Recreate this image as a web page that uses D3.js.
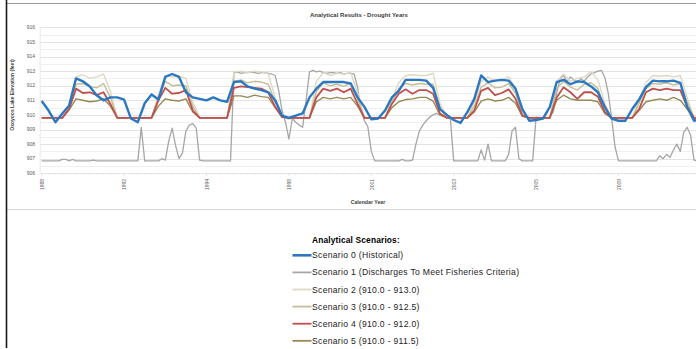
<!DOCTYPE html>
<html>
<head>
<meta charset="utf-8">
<title>Analytical Results - Drought Years</title>
<script src="https://d3js.org/d3.v7.min.js"></script>
<style>
  html, body { margin: 0; padding: 0; background: #fff; }
  svg { display: block; font-family: "Liberation Sans", Arial, sans-serif; }
</style>
</head>
<body>
<div id="chart"></div>
<script>
// drought years shown on the x axis (one year per band)
const years = ["1988", "1992", "1994", "1998", "2001", "2003", "2005", "2009"];
const yTicks = [906, 907, 908, 909, 910, 911, 912, 913, 914, 915, 916];

// monthly lake elevations (ft), 97 points across the 8 drought years
const scen0 = [910.95,910.3,909.5,910.1,910.65,912.5,912.3,911.95,911.35,911.0,911.2,911.2,
  911.05,909.75,909.5,910.8,911.4,911.05,912.6,912.8,912.6,911.55,911.2,911.1,
  911.0,911.2,911.0,910.9,912.25,912.3,911.95,911.8,911.7,911.55,911.0,909.95,
  909.8,909.95,910.1,911.2,911.8,912.25,912.25,912.25,912.25,912.15,911.2,910.55,
  909.7,909.75,910.3,911.2,911.65,912.4,912.4,912.4,912.35,911.85,910.4,910.0,
  909.65,909.45,910.2,911.1,912.7,912.25,912.35,912.4,912.35,911.8,910.4,909.6,
  909.65,909.75,910.55,912.25,912.4,912.1,912.3,912.25,911.95,911.55,910.55,909.75,
  909.6,909.6,910.4,911.05,911.9,912.35,912.3,912.3,912.35,912.2,910.55,909.6,
  909.7];
const scen2 = [909.8,909.8,909.8,909.8,910.6,912.6,912.75,912.5,912.6,912.8,911.6,909.8,
  909.8,909.8,909.8,909.8,909.8,911.4,912.7,912.6,912.65,912.5,910.9,909.8,
  909.8,909.8,909.8,909.8,912.95,913.0,912.9,913.0,912.95,912.8,911.2,909.9,
  909.7,909.8,909.8,909.8,912.3,912.9,912.7,912.85,912.8,912.9,911.5,909.8,
  909.8,909.8,909.8,911.1,912.2,912.7,912.75,912.7,912.7,912.85,910.8,909.8,
  909.8,909.8,909.8,910.9,912.3,912.6,912.3,912.4,912.6,911.8,910.1,909.8,
  909.8,909.8,909.8,912.3,912.8,912.3,912.5,912.6,912.95,912.4,910.8,909.8,
  909.8,909.8,909.8,911.1,912.2,912.7,912.65,912.7,912.6,912.7,911.2,909.8,
  909.8];
const scen3 = [909.8,909.8,909.8,909.8,910.5,912.1,912.15,911.95,911.85,912.15,911.2,909.8,
  909.8,909.8,909.8,909.8,909.8,911.2,912.3,912.0,912.05,912.0,910.6,909.8,
  909.8,909.8,909.8,909.8,912.3,912.4,912.2,912.3,912.25,912.1,910.9,909.9,
  909.8,909.8,909.8,909.8,911.6,912.2,912.0,912.1,911.95,912.2,911.1,909.8,
  909.8,909.8,909.8,910.9,911.8,912.15,912.05,912.15,912.1,912.1,910.5,909.8,
  909.8,909.8,909.8,910.6,911.9,912.2,911.85,911.9,912.15,911.5,910.0,909.8,
  909.8,909.8,909.8,911.8,912.3,911.9,911.7,912.1,912.2,911.8,910.5,909.8,
  909.8,909.8,909.8,910.8,911.8,912.15,912.1,912.2,912.05,912.15,910.9,909.8,
  909.8];
const scen4 = [909.8,909.8,909.8,909.8,910.4,911.8,911.5,911.55,911.35,911.55,910.75,909.8,
  909.8,909.8,909.8,909.8,909.8,911.0,911.85,911.45,911.5,911.7,910.3,909.8,
  909.8,909.8,909.8,909.8,911.85,911.95,911.9,911.85,911.8,911.55,910.55,909.85,
  909.8,909.8,909.8,909.8,911.2,911.8,911.65,911.8,911.55,911.8,910.75,909.8,
  909.8,909.8,909.8,910.75,911.45,911.75,911.45,911.7,911.7,911.45,910.1,909.8,
  909.8,909.8,909.8,910.3,911.65,911.85,911.35,911.5,911.75,911.1,909.95,909.8,
  909.8,909.8,909.8,911.2,911.9,911.55,911.1,911.55,911.55,911.25,910.2,909.8,
  909.8,909.8,909.8,910.4,911.55,911.8,911.7,911.8,911.7,911.7,910.55,909.8,
  909.8];
const scen5 = [909.8,909.8,909.8,909.8,910.35,911.1,911.0,910.9,910.95,911.1,910.6,909.8,
  909.8,909.8,909.8,909.8,909.8,910.6,911.1,911.0,910.95,911.1,910.2,909.8,
  909.8,909.8,909.8,909.8,911.3,911.3,911.2,911.35,911.25,911.2,910.5,909.85,
  909.8,909.8,909.8,909.8,910.9,911.2,911.1,911.2,911.1,911.2,910.6,909.8,
  909.8,909.8,909.8,910.5,910.9,911.05,911.1,911.2,911.2,910.95,910.0,909.8,
  909.8,909.8,909.8,910.2,910.95,911.1,910.95,911.0,911.2,910.8,909.9,909.8,
  909.8,909.8,909.8,911.0,911.35,911.1,911.0,911.0,911.0,910.9,910.1,909.8,
  909.8,909.8,909.8,910.3,910.9,911.0,911.1,911.0,911.2,911.0,910.4,909.8,
  909.8];

// scenario 1 changes quickly, so it is kept at half-month steps (193 points)
const scen1 = [906.85,906.85,906.85,906.85,906.85,906.85,906.95,906.95,906.85,906.95,906.85,906.85,906.85,906.85,906.85,906.9,906.85,906.85,906.85,906.85,906.85,906.85,906.85,906.85,
  906.85,906.85,906.85,906.85,906.85,909.15,906.85,906.85,906.85,906.85,906.85,907.0,906.9,908.2,909.1,907.9,907.0,907.4,908.9,909.3,909.4,909.1,906.9,906.85,
  906.85,906.85,906.85,906.85,906.85,906.85,906.85,906.85,912.9,912.95,912.85,912.9,912.9,912.95,912.9,912.85,912.9,912.9,912.85,912.8,912.7,911.7,910.3,909.5,
  908.35,909.75,909.5,909.3,909.15,911.0,912.95,913.05,912.95,913.0,912.9,912.85,912.9,912.9,912.85,912.9,912.8,912.85,912.85,912.8,911.9,910.3,909.6,909.2,
  907.5,906.85,906.85,906.85,906.85,906.85,906.85,906.85,906.85,906.95,906.85,906.85,906.9,908.0,908.9,909.3,909.6,909.85,910.0,910.1,910.0,909.9,909.85,909.8,
  906.85,906.85,906.85,906.85,906.85,906.85,906.85,906.85,907.6,906.9,908.0,906.85,906.85,906.85,906.85,906.85,907.3,908.9,909.15,907.0,906.85,906.85,906.85,906.85,
  909.85,909.8,909.75,909.8,909.85,910.2,911.5,912.5,912.7,912.3,912.6,912.4,912.2,912.5,912.3,912.6,912.8,912.9,913.0,913.05,912.6,911.5,909.8,907.8,
  906.85,906.85,906.85,906.85,906.85,906.85,906.85,906.85,906.85,906.85,906.85,906.85,907.2,907.0,907.3,907.1,907.6,908.0,907.5,908.8,909.15,908.6,906.9,906.85,
  906.85];

const names = ["Scenario 0 (Historical)", "Scenario 1 (Discharges To Meet Fisheries Criteria)",
  "Scenario 2 (910.0 - 913.0)", "Scenario 3 (910.0 - 912.5)", "Scenario 4 (910.0 - 912.0)",
  "Scenario 5 (910.0 - 911.5)"];
const colors = ["#2a78c2", "#a6a6a6", "#ddd9c4", "#c4bd97", "#c0504d", "#948a54"];
const widths = [2.4, 1.3, 1.4, 1.4, 1.8, 1.4];

const width = 696, height = 349;
const svg = d3.select("#chart").append("svg")
  .attr("width", width).attr("height", height);

svg.append("rect").attr("width", width).attr("height", height).attr("fill", "#fff");

// frame lines
svg.append("line").attr("x1", 6).attr("x2", width).attr("y1", 3.5).attr("y2", 3.5)
  .attr("stroke", "#9a9a9a").attr("stroke-width", 1);
svg.append("line").attr("x1", 6).attr("x2", width).attr("y1", 209.5).attr("y2", 209.5)
  .attr("stroke", "#d4d4d4").attr("stroke-width", 1);
svg.append("line").attr("x1", 6.5).attr("x2", 6.5).attr("y1", 0).attr("y2", 348)
  .attr("stroke", "#1a1a1a").attr("stroke-width", 1.6);

// scales
const x = d3.scaleLinear().domain([0, years.length]).range([41.7, 700.9]);
const y = d3.scaleLinear().domain([906, 916]).range([173.3, 27.3]);

const plot = svg.append("g");

// gridlines, every half foot
const grid = d3.range(906, 916.01, 0.5);
plot.selectAll("line.grid").data(grid).enter().append("line")
  .attr("x1", x(0) - 1).attr("x2", width)
  .attr("y1", d => Math.round(y(d)) + 0.5).attr("y2", d => Math.round(y(d)) + 0.5)
  .attr("stroke", d => d % 1 === 0 ? "#dcdcdc" : "#ececec").attr("stroke-width", 0.8);

plot.append("line").attr("x1", x(0) - 1.5).attr("x2", x(0) - 1.5)
  .attr("y1", y(916)).attr("y2", y(906)).attr("stroke", "#e4e4e4").attr("stroke-width", 0.8);

// y axis labels
plot.selectAll("text.ytick").data(yTicks).enter().append("text")
  .attr("x", 35).attr("y", d => y(d)).attr("dy", "0.35em")
  .attr("text-anchor", "end").attr("font-size", 5).attr("fill", "#595959")
  .text(d => d);

// x ticks + rotated labels
plot.selectAll("line.xtick").data(d3.range(0, years.length * 12 + 1)).enter().append("line")
  .attr("x1", d => x(d / 12)).attr("x2", d => x(d / 12))
  .attr("y1", y(906)).attr("y2", d => y(906) + (d % 12 === 0 ? 2.5 : 1.2))
  .attr("stroke", "#d0d0d0").attr("stroke-width", 0.6);

plot.selectAll("text.xtick").data(years).enter().append("text")
  .attr("transform", (d, i) => `translate(${x(i) + 0.5},184.5) rotate(-90)`)
  .attr("dy", "0.35em").attr("text-anchor", "middle")
  .attr("font-size", 5).attr("fill", "#595959")
  .text(d => d);

// titles
svg.append("text").attr("x", 359).attr("y", 17).attr("text-anchor", "middle")
  .attr("font-size", 6).attr("font-weight", "bold").attr("fill", "#404040")
  .text("Analytical Results - Drought Years");
svg.append("text").attr("x", 368).attr("y", 203.5).attr("text-anchor", "middle")
  .attr("font-size", 5.2).attr("font-weight", "bold").attr("fill", "#404040")
  .text("Calendar Year");
svg.append("text").attr("transform", "translate(13.5,95) rotate(-90)")
  .attr("text-anchor", "middle").attr("font-size", 5).attr("font-weight", "bold")
  .attr("fill", "#404040").text("Osoyoos Lake Elevation (feet)");

// series
const monthLine = d3.line().x((d, i) => x(i / 12)).y(d => y(d));
const halfLine = d3.line().x((d, i) => x(i / 24)).y(d => y(d));

const series = [
  { idx: 1, data: scen1, line: halfLine },
  { idx: 2, data: scen2, line: monthLine },
  { idx: 3, data: scen3, line: monthLine },
  { idx: 5, data: scen5, line: monthLine },
  { idx: 4, data: scen4, line: monthLine },
  { idx: 0, data: scen0, line: monthLine }
];

plot.selectAll("path.series").data(series).enter().append("path")
  .attr("d", s => s.line(s.data))
  .attr("fill", "none")
  .attr("stroke", s => colors[s.idx])
  .attr("stroke-width", s => widths[s.idx])
  .attr("stroke-linejoin", "round");

// legend
const legend = svg.append("g");
legend.append("text").attr("x", 312).attr("y", 243).attr("font-size", 8.4)
  .attr("font-weight", "bold").attr("letter-spacing", 0.15).attr("fill", "#000")
  .text("Analytical Scenarios:");

const item = legend.selectAll("g.item").data(names).enter().append("g")
  .attr("transform", (d, i) => `translate(0,${255.3 + i * 17.1})`);
item.append("line").attr("x1", 292.5).attr("x2", 311.5)
  .attr("stroke", (d, i) => colors[i])
  .attr("stroke-width", (d, i) => i === 0 ? 2.6 : 1.8);
item.append("text").attr("x", 312).attr("dy", "0.35em")
  .attr("font-size", 8.6).attr("letter-spacing", 0.3).attr("fill", "#222").text(d => d);
</script>
</body>
</html>
